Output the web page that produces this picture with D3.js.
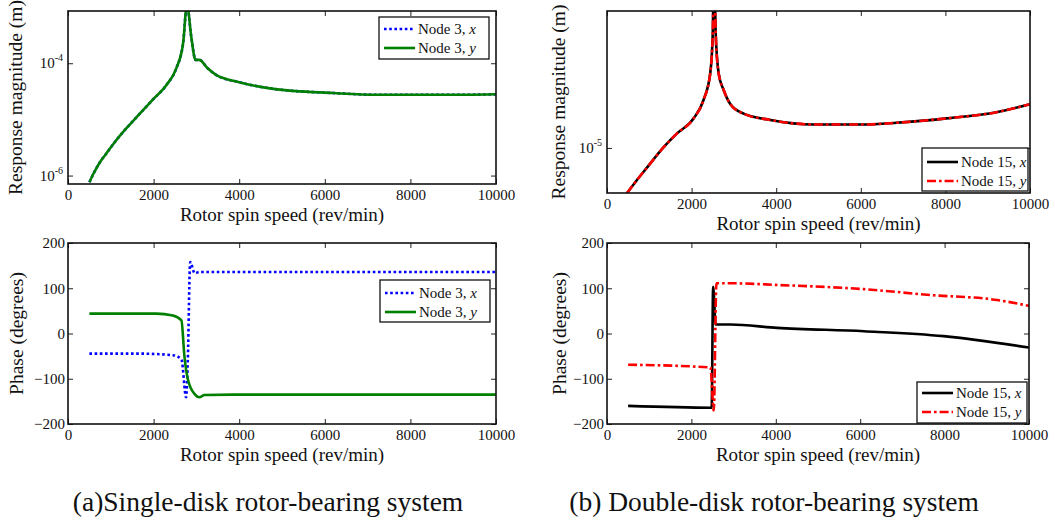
<!DOCTYPE html>
<html>
<head>
<meta charset="utf-8">
<script src="https://cdn.jsdelivr.net/npm/d3@7"></script>
<style>
  body { margin: 0; background: #fff; }
  svg text { font-family: "Liberation Serif", "Times New Roman", serif !important; }
</style>
</head>
<body>
<svg id="chart" width="1055" height="526"></svg>
<script>
// ---- data ----
// (a) single-disk: response magnitude, node 3 (x and y coincide)
const magSpeedA = [500, 600, 750, 900, 1100, 1360, 1650, 1980, 2300, 2530, 2690, 2780, 2880, 2980, 3070, 3250, 3460, 4000, 4800, 6200, 7200, 9300, 10000];
const magA = [7.6e-7, 1.1e-6, 1.75e-6, 2.5e-6, 4.0e-6, 6.9e-6, 1.2e-5, 2.24e-5, 4.1e-5, 8.1e-5, 2.29e-4, 1.12e-3, 2.95e-4, 1.15e-4, 1.15e-4, 8.3e-5, 6.2e-5, 4.6e-5, 3.5e-5, 2.95e-5, 2.75e-5, 2.75e-5, 2.8e-5];

// (a) phase, node 3
const phSpeedAx = [500, 1670, 2450, 2650, 2760, 2800, 2855, 2960, 3070, 10000];
const phAx = [-44.5, -44.5, -48, -57, -141, -57, 158, 133, 136, 136];
const phSpeedAy = [500, 2060, 2450, 2650, 2720, 2800, 2960, 3070, 3190, 3850, 10000];
const phAy = [44, 44, 40, 29, -50, -101, -134, -141, -136, -135, -135];

// (b) double-disk: response magnitude, node 15 (x and y coincide)
const magSpeedB = [470, 700, 950, 1340, 1650, 2050, 2280, 2440, 2500, 2530, 2570, 2640, 2760, 2910, 3230, 3860, 4880, 6060, 6850, 8030, 9210, 10000];
const magB = [5.6e-6, 6.6e-6, 7.8e-6, 1.01e-5, 1.2e-5, 1.46e-5, 1.84e-5, 2.59e-5, 4.3e-5, 1.2e-4, 4.3e-5, 2.59e-5, 2.09e-5, 1.76e-5, 1.55e-5, 1.43e-5, 1.35e-5, 1.35e-5, 1.38e-5, 1.46e-5, 1.58e-5, 1.75e-5];

// (b) phase, node 15
const phSpeedBx = [500, 2480, 2515, 2575, 2925, 4030, 6090, 7980, 10000];
const phBx = [-160, -164, 103, 20, 20, 12.4, 5, -5.8, -31];
const phSpeedBy = [500, 2450, 2530, 2593, 2925, 4110, 6090, 7670, 9250, 10000];
const phBy = [-69, -75, -170, 111, 111, 107, 98, 85, 74, 61];

const speedTicks = [0, 2000, 4000, 6000, 8000, 10000];
const phaseTicks = [-200, -100, 0, 100, 200];
const magTicksA = [1e-6, 1e-4];
const magTicksB = [1e-5];

const legendA = ['Node 3, ', 'Node 3, '];
const legendB = ['Node 15, ', 'Node 15, '];
const legendAxis = ['x', 'y'];

const captions = ['(a)Single-disk rotor-bearing system', '(b) Double-disk rotor-bearing system'];

const svg = d3.select('#chart');

const zip = (xs, ys) => xs.map((x, i) => [x, ys[i]]);

let clipId = 0;

function panel(cfg) {
  const x = d3.scaleLinear().domain([0, 10000]).range([cfg.left, cfg.right]);
  const y = cfg.log
    ? d3.scaleLog().domain(cfg.yDomain).range([cfg.bottom, cfg.top])
    : d3.scaleLinear().domain(cfg.yDomain).range([cfg.bottom, cfg.top]);

  const g = svg.append('g');
  const id = 'clip' + (clipId++);
  g.append('clipPath').attr('id', id)
    .append('rect')
    .attr('x', cfg.left).attr('y', cfg.top)
    .attr('width', cfg.right - cfg.left).attr('height', cfg.bottom - cfg.top);

  const line = d3.line()
    .x(d => x(d[0]))
    .y(d => y(d[1]))
    .curve(d3.curveMonotoneX);

  const plot = g.append('g').attr('clip-path', 'url(#' + id + ')');
  cfg.series.forEach(s => {
    plot.append('path')
      .attr('d', line(s.data))
      .attr('fill', 'none')
      .attr('stroke', s.color)
      .attr('stroke-width', 2.6)
      .attr('stroke-dasharray', s.dash || null);
  });

  // axes: ticks inward on all four sides, MATLAB style
  const tl = 5;
  g.append('g')
    .attr('transform', 'translate(0,' + cfg.bottom + ')')
    .call(d3.axisBottom(x).tickValues(speedTicks).tickSizeInner(-tl).tickSizeOuter(0).tickPadding(5).tickFormat(d3.format('d')));
  g.append('g')
    .attr('transform', 'translate(0,' + cfg.top + ')')
    .call(d3.axisTop(x).tickValues(speedTicks).tickSizeInner(-tl).tickSizeOuter(0).tickFormat(''));
  const yTicks = cfg.yTicks;
  const leftAxis = d3.axisLeft(y).tickValues(yTicks).tickSizeInner(-tl).tickSizeOuter(0).tickPadding(3);
  if (cfg.log) leftAxis.tickFormat('');
  g.append('g')
    .attr('transform', 'translate(' + cfg.left + ',0)')
    .call(leftAxis);
  g.append('g')
    .attr('transform', 'translate(' + cfg.right + ',0)')
    .call(d3.axisRight(y).tickValues(yTicks).tickSizeInner(-tl).tickSizeOuter(0).tickFormat(''));

  g.selectAll('.domain').remove();
  g.selectAll('.tick line').attr('stroke', '#222').attr('stroke-width', 1);
  g.selectAll('.tick text')
    .attr('font-size', 15)
    .attr('fill', '#111');

  // powers of ten on the log axis
  if (cfg.log) {
    yTicks.forEach(v => {
      const t = g.append('text')
        .attr('x', cfg.left - 5)
        .attr('y', y(v) + 5)
        .attr('text-anchor', 'end')
        .attr('font-size', 15)
        .attr('fill', '#111');
      t.append('tspan').text('10');
      t.append('tspan').attr('font-size', 10).attr('dy', -7).text(Math.round(Math.log10(v)));
    });
  }

  g.append('rect')
    .attr('x', cfg.left).attr('y', cfg.top)
    .attr('width', cfg.right - cfg.left).attr('height', cfg.bottom - cfg.top)
    .attr('fill', 'none').attr('stroke', '#111').attr('stroke-width', 1.6);

  g.append('text')
    .attr('x', (cfg.left + cfg.right) / 2)
    .attr('y', cfg.bottom + 37)
    .attr('text-anchor', 'middle')
    .attr('font-size', 19)
    .attr('fill', '#111')
    .text('Rotor spin speed (rev/min)');

  g.append('text')
    .attr('transform', 'translate(' + cfg.ytitleX + ',' + ((cfg.top + cfg.bottom) / 2) + ') rotate(-90)')
    .attr('text-anchor', 'middle')
    .attr('font-size', 19.5)
    .attr('fill', '#111')
    .text(cfg.ytitle);

  // legend
  const L = cfg.legend;
  g.append('rect')
    .attr('x', L.x).attr('y', L.y).attr('width', L.w).attr('height', L.h)
    .attr('fill', '#fff').attr('stroke', '#111').attr('stroke-width', 1.3);
  L.labels.forEach((lab, i) => {
    const s = cfg.series[i];
    const ly = L.y + L.first + i * L.step;
    g.append('line')
      .attr('x1', L.x + 5).attr('x2', L.x + 36)
      .attr('y1', ly).attr('y2', ly)
      .attr('stroke', s.color).attr('stroke-width', 2.6)
      .attr('stroke-dasharray', s.dash || null);
    const t = g.append('text')
      .attr('x', L.x + 39).attr('y', ly + 5)
      .attr('font-size', 15).attr('fill', '#111');
    t.append('tspan').text(lab);
    t.append('tspan').attr('font-style', 'italic').text(legendAxis[i]);
  });
}

const dotted = '2.6,2.6';
const dashDot = '9,3,2.6,3';

panel({
  left: 68, right: 496, top: 11, bottom: 184,
  log: true, yDomain: [Math.pow(10, -6.15), Math.pow(10, -3.07)], yTicks: magTicksA,
  ytitle: 'Response magnitude (m)', ytitleX: 22,
  series: [
    { data: zip(magSpeedA, magA), color: '#0000ff', dash: dotted },
    { data: zip(magSpeedA, magA), color: '#008000' }
  ],
  legend: { x: 379, y: 17, w: 110, h: 42, first: 12, step: 19, labels: legendA }
});

panel({
  left: 607, right: 1030, top: 11, bottom: 193,
  log: true, yDomain: [Math.pow(10, -5.25), Math.pow(10, -4.24)], yTicks: magTicksB,
  ytitle: 'Response magnitude (m)', ytitleX: 565,
  series: [
    { data: zip(magSpeedB, magB), color: '#000000' },
    { data: zip(magSpeedB, magB), color: '#ff0000', dash: dashDot }
  ],
  legend: { x: 922, y: 148, w: 106, h: 43, first: 14, step: 19, labels: legendB }
});

panel({
  left: 68, right: 496, top: 243, bottom: 424,
  log: false, yDomain: [-200, 200], yTicks: phaseTicks,
  ytitle: 'Phase (degrees)', ytitleX: 23,
  series: [
    { data: zip(phSpeedAx, phAx), color: '#0000ff', dash: dotted },
    { data: zip(phSpeedAy, phAy), color: '#008000' }
  ],
  legend: { x: 380, y: 280, w: 110, h: 42, first: 13, step: 19, labels: legendA }
});

panel({
  left: 607, right: 1029, top: 243, bottom: 424,
  log: false, yDomain: [-200, 200], yTicks: phaseTicks,
  ytitle: 'Phase (degrees)', ytitleX: 566,
  series: [
    { data: zip(phSpeedBx, phBx), color: '#000000' },
    { data: zip(phSpeedBy, phBy), color: '#ff0000', dash: dashDot }
  ],
  legend: { x: 917, y: 382, w: 110, h: 41, first: 11, step: 19, labels: legendB }
});

svg.selectAll('text.caption')
  .data(captions)
  .enter()
  .append('text')
  .attr('class', 'caption')
  .attr('x', (d, i) => i === 0 ? 268 : 774)
  .attr('y', 511)
  .attr('text-anchor', 'middle')
  .attr('font-size', 27.5)
  .attr('fill', '#111')
  .text(d => d);
</script>
</body>
</html>
